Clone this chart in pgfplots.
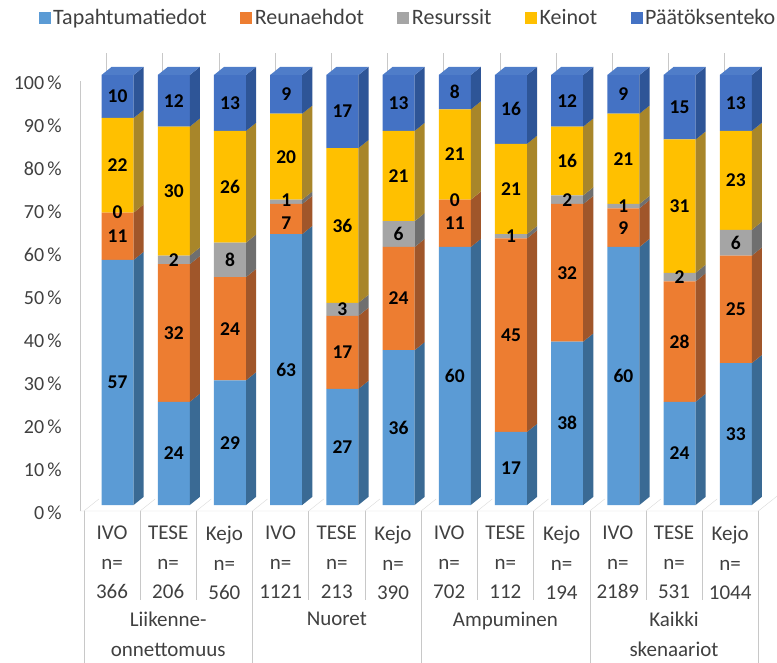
\documentclass[border=0pt]{standalone}
\usepackage{pgfplots}
\pgfplotsset{compat=1.18}
\usepackage{fontspec}
\setmainfont{Carlito}
\definecolor{cT}{HTML}{5B9BD5}
\definecolor{cR}{HTML}{ED7D31}
\definecolor{cS}{HTML}{A5A5A5}
\definecolor{cK}{HTML}{FFC000}
\definecolor{cP}{HTML}{4472C4}
\definecolor{sT}{HTML}{3A6A94}
\definecolor{sR}{HTML}{A0562A}
\definecolor{sS}{HTML}{6F6F6F}
\definecolor{sK}{HTML}{A8862A}
\definecolor{sP}{HTML}{2E5597}
\definecolor{tP}{HTML}{4F7DC9}
\definecolor{txt}{HTML}{404040}
\definecolor{sepc}{HTML}{C8C8C8}
\definecolor{floorc}{HTML}{D9D9D9}
\begin{document}
\begin{tikzpicture}
\useasboundingbox (0,0) rectangle (777pt,662pt);
\pgfplotsset{common/.style={at={(80pt,157pt)}, anchor=south west, scale only axis,
  width=683.9pt, height=430pt, xmin=-0.669, xmax=11.5, ymin=0, ymax=100,
  enlargelimits=false, clip=false}}
\begin{axis}[common,
  ybar stacked, bar width=0.57,
  axis x line*=bottom, axis y line*=left,
  x axis line style={draw=none},
  y axis line style={draw=sepc, yshift=-6pt},
  major tick length=0pt,
  ytick={0,10,...,100},
  /pgf/number format/assume math mode=true,
  yticklabel={\pgfmathprintnumber{\tick}\,\%},
  yticklabel style={anchor=east, inner sep=0pt, xshift=-18pt, yshift=-8pt,
    font=\fontsize{20}{24}\selectfont, text=txt},
  xtick={0,...,11},
  xticklabels={{IVO\\n=\\366},{TESE\\n=\\206},{Kejo\\n=\\560},
    {IVO\\n=\\1121},{TESE\\n=\\213},{Kejo\\n=\\390},
    {IVO\\n=\\702},{TESE\\n=\\112},{Kejo\\n=\\194},
    {IVO\\n=\\2189},{TESE\\n=\\531},{Kejo\\n=\\1044}},
  xticklabel style={align=center, anchor=north, inner sep=0pt, yshift=-21pt, xshift=-5.6pt,
    font=\fontsize{21}{29.5}\selectfont, text=txt},
  extra x ticks={1,4,7,10},
  extra x tick labels={{Liikenne-\\onnettomuus},{Nuoret},{Ampuminen},{Kaikki\\skenaariot}},
  extra x tick style={tick label style={yshift=-86pt, font=\fontsize{21}{26}\selectfont}},
  legend columns=5,
  legend style={at={(0.48,1.1326)}, anchor=center, draw=none, fill=none,
    font=\fontsize{22}{26}\selectfont, text=txt,
    /tikz/every even column/.append style={column sep=31pt},
    nodes={inner sep=2.5pt}},
  legend image code/.code={\fill[#1] (0pt,-6pt) rectangle (12pt,6pt);},
]
% floor, back-wall ticks and separators
\draw[floorc] ([yshift=-6pt]axis cs:-0.669,0) -- ([xshift=-5.6pt,yshift=-6pt]axis cs:11.5,0) -- ([xshift=18.4pt,yshift=13pt]axis cs:11.5,0);
\pgfplotsinvokeforeach{-0.5,0.5,1.5,2.5,3.5,4.5,5.5,6.5,7.5,8.5,9.5,10.5}{
  \draw[floorc] ([xshift=-5.6pt,yshift=-6pt]axis cs:#1,0) -- ([xshift=9.4pt,yshift=6pt]axis cs:#1,0);}
\pgfplotsinvokeforeach{-0.2,0.8,1.8,2.8,3.8,4.8,5.8,6.8,7.8,8.8,9.8,10.8}{
  \draw[sepc] (axis cs:#1,100) -- ([yshift=22pt]axis cs:#1,100);}
\pgfplotsinvokeforeach{0.5,1.5,3.5,4.5,6.5,7.5,9.5,10.5}{
  \draw[sepc] ([xshift=-5.6pt,yshift=-6pt]axis cs:#1,0) -- ([xshift=-5.6pt,yshift=-95pt]axis cs:#1,0);}
\pgfplotsinvokeforeach{-0.5,2.5,5.5,8.5,11.5}{
  \draw[sepc] ([xshift=-5.6pt,yshift=-6pt]axis cs:#1,0) -- ([xshift=-5.6pt,yshift=-160pt]axis cs:#1,0);}
\addplot[fill=cT, draw=none] coordinates {(0,57) (1,24) (2,29) (3,63) (4,27) (5,36) (6,60) (7,17) (8,38) (9,60) (10,24) (11,33)};
\addplot[fill=cR, draw=none] coordinates {(0,11) (1,32) (2,24) (3,7) (4,17) (5,24) (6,11) (7,45) (8,32) (9,9) (10,28) (11,25)};
\addplot[fill=cS, draw=none] coordinates {(0,0) (1,2) (2,8) (3,1) (4,3) (5,6) (6,0) (7,1) (8,2) (9,1) (10,2) (11,6)};
\addplot[fill=cK, draw=none] coordinates {(0,22) (1,30) (2,26) (3,20) (4,36) (5,21) (6,21) (7,21) (8,16) (9,21) (10,31) (11,23)};
\addplot[fill=cP, draw=none] coordinates {(0,10) (1,12) (2,13) (3,9) (4,17) (5,13) (6,8) (7,16) (8,12) (9,9) (10,15) (11,13)};
\legend{Tapahtumatiedot, Reunaehdot, Resurssit, Keinot, Päätöksenteko}
\end{axis}
\begin{axis}[common, hide axis, unbounded coords=jump]
% side faces
\addplot[fill=sT, draw=none] coordinates {
(0.285,0) (0.465,1.9) (0.465,58.9) (0.285,57) (nan,nan)
(1.285,0) (1.465,1.9) (1.465,25.9) (1.285,24) (nan,nan)
(2.285,0) (2.465,1.9) (2.465,30.9) (2.285,29) (nan,nan)
(3.285,0) (3.465,1.9) (3.465,64.9) (3.285,63) (nan,nan)
(4.285,0) (4.465,1.9) (4.465,28.9) (4.285,27) (nan,nan)
(5.285,0) (5.465,1.9) (5.465,37.9) (5.285,36) (nan,nan)
(6.285,0) (6.465,1.9) (6.465,61.9) (6.285,60) (nan,nan)
(7.285,0) (7.465,1.9) (7.465,18.9) (7.285,17) (nan,nan)
(8.285,0) (8.465,1.9) (8.465,39.9) (8.285,38) (nan,nan)
(9.285,0) (9.465,1.9) (9.465,61.9) (9.285,60) (nan,nan)
(10.285,0) (10.465,1.9) (10.465,25.9) (10.285,24) (nan,nan)
(11.285,0) (11.465,1.9) (11.465,34.9) (11.285,33)};
\addplot[fill=sR, draw=none] coordinates {
(0.285,57) (0.465,58.9) (0.465,69.9) (0.285,68) (nan,nan)
(1.285,24) (1.465,25.9) (1.465,57.9) (1.285,56) (nan,nan)
(2.285,29) (2.465,30.9) (2.465,54.9) (2.285,53) (nan,nan)
(3.285,63) (3.465,64.9) (3.465,71.9) (3.285,70) (nan,nan)
(4.285,27) (4.465,28.9) (4.465,45.9) (4.285,44) (nan,nan)
(5.285,36) (5.465,37.9) (5.465,61.9) (5.285,60) (nan,nan)
(6.285,60) (6.465,61.9) (6.465,72.9) (6.285,71) (nan,nan)
(7.285,17) (7.465,18.9) (7.465,63.9) (7.285,62) (nan,nan)
(8.285,38) (8.465,39.9) (8.465,71.9) (8.285,70) (nan,nan)
(9.285,60) (9.465,61.9) (9.465,70.9) (9.285,69) (nan,nan)
(10.285,24) (10.465,25.9) (10.465,53.9) (10.285,52) (nan,nan)
(11.285,33) (11.465,34.9) (11.465,59.9) (11.285,58)};
\addplot[fill=sS, draw=none] coordinates {
(1.285,56) (1.465,57.9) (1.465,59.9) (1.285,58) (nan,nan)
(2.285,53) (2.465,54.9) (2.465,62.9) (2.285,61) (nan,nan)
(3.285,70) (3.465,71.9) (3.465,72.9) (3.285,71) (nan,nan)
(4.285,44) (4.465,45.9) (4.465,48.9) (4.285,47) (nan,nan)
(5.285,60) (5.465,61.9) (5.465,67.9) (5.285,66) (nan,nan)
(7.285,62) (7.465,63.9) (7.465,64.9) (7.285,63) (nan,nan)
(8.285,70) (8.465,71.9) (8.465,73.9) (8.285,72) (nan,nan)
(9.285,69) (9.465,70.9) (9.465,71.9) (9.285,70) (nan,nan)
(10.285,52) (10.465,53.9) (10.465,55.9) (10.285,54) (nan,nan)
(11.285,58) (11.465,59.9) (11.465,65.9) (11.285,64)};
\addplot[fill=sK, draw=none] coordinates {
(0.285,68) (0.465,69.9) (0.465,91.9) (0.285,90) (nan,nan)
(1.285,58) (1.465,59.9) (1.465,89.9) (1.285,88) (nan,nan)
(2.285,61) (2.465,62.9) (2.465,88.9) (2.285,87) (nan,nan)
(3.285,71) (3.465,72.9) (3.465,92.9) (3.285,91) (nan,nan)
(4.285,47) (4.465,48.9) (4.465,84.9) (4.285,83) (nan,nan)
(5.285,66) (5.465,67.9) (5.465,88.9) (5.285,87) (nan,nan)
(6.285,71) (6.465,72.9) (6.465,93.9) (6.285,92) (nan,nan)
(7.285,63) (7.465,64.9) (7.465,85.9) (7.285,84) (nan,nan)
(8.285,72) (8.465,73.9) (8.465,89.9) (8.285,88) (nan,nan)
(9.285,70) (9.465,71.9) (9.465,92.9) (9.285,91) (nan,nan)
(10.285,54) (10.465,55.9) (10.465,86.9) (10.285,85) (nan,nan)
(11.285,64) (11.465,65.9) (11.465,88.9) (11.285,87)};
\addplot[fill=sP, draw=none] coordinates {
(0.285,90) (0.465,91.9) (0.465,101.9) (0.285,100) (nan,nan)
(1.285,88) (1.465,89.9) (1.465,101.9) (1.285,100) (nan,nan)
(2.285,87) (2.465,88.9) (2.465,101.9) (2.285,100) (nan,nan)
(3.285,91) (3.465,92.9) (3.465,101.9) (3.285,100) (nan,nan)
(4.285,83) (4.465,84.9) (4.465,101.9) (4.285,100) (nan,nan)
(5.285,87) (5.465,88.9) (5.465,101.9) (5.285,100) (nan,nan)
(6.285,92) (6.465,93.9) (6.465,101.9) (6.285,100) (nan,nan)
(7.285,84) (7.465,85.9) (7.465,101.9) (7.285,100) (nan,nan)
(8.285,88) (8.465,89.9) (8.465,101.9) (8.285,100) (nan,nan)
(9.285,91) (9.465,92.9) (9.465,101.9) (9.285,100) (nan,nan)
(10.285,85) (10.465,86.9) (10.465,101.9) (10.285,100) (nan,nan)
(11.285,87) (11.465,88.9) (11.465,101.9) (11.285,100)};
% top faces
\addplot[fill=tP, draw=none] coordinates {
(-0.285,100) (0.285,100) (0.465,101.9) (-0.105,101.9) (nan,nan)
(0.715,100) (1.285,100) (1.465,101.9) (0.895,101.9) (nan,nan)
(1.715,100) (2.285,100) (2.465,101.9) (1.895,101.9) (nan,nan)
(2.715,100) (3.285,100) (3.465,101.9) (2.895,101.9) (nan,nan)
(3.715,100) (4.285,100) (4.465,101.9) (3.895,101.9) (nan,nan)
(4.715,100) (5.285,100) (5.465,101.9) (4.895,101.9) (nan,nan)
(5.715,100) (6.285,100) (6.465,101.9) (5.895,101.9) (nan,nan)
(6.715,100) (7.285,100) (7.465,101.9) (6.895,101.9) (nan,nan)
(7.715,100) (8.285,100) (8.465,101.9) (7.895,101.9) (nan,nan)
(8.715,100) (9.285,100) (9.465,101.9) (8.895,101.9) (nan,nan)
(9.715,100) (10.285,100) (10.465,101.9) (9.895,101.9) (nan,nan)
(10.715,100) (11.285,100) (11.465,101.9) (10.895,101.9)};
% value labels
\addplot[draw=none, nodes near coords, point meta=explicit symbolic,
  every node near coord/.append style={anchor=center, inner sep=0pt,
    font=\bfseries\fontsize{19.5}{22}\selectfont, text=black}] coordinates {
(0,28.5)[57] (0,62.5)[11] (0,68)[0] (0,79)[22] (0,95)[10]
(1,12)[24] (1,40)[32] (1,57)[2] (1,73)[30] (1,94)[12]
(2,14.5)[29] (2,41)[24] (2,57)[8] (2,74)[26] (2,93.5)[13]
(3,31.5)[63] (3,65.5)[7] (3,71)[1] (3,81)[20] (3,95.5)[9]
(4,13.5)[27] (4,35.5)[17] (4,45.5)[3] (4,65)[36] (4,91.5)[17]
(5,18)[36] (5,48)[24] (5,63)[6] (5,76.5)[21] (5,93.5)[13]
(6,30)[60] (6,65.5)[11] (6,71)[0] (6,81.5)[21] (6,96)[8]
(7,8.5)[17] (7,39.5)[45] (7,62.5)[1] (7,73.5)[21] (7,92)[16]
(8,19)[38] (8,54)[32] (8,71)[2] (8,80)[16] (8,94)[12]
(9,30)[60] (9,64.5)[9] (9,69.5)[1] (9,80.5)[21] (9,95.5)[9]
(10,12)[24] (10,38)[28] (10,53)[2] (10,69.5)[31] (10,92.5)[15]
(11,16.5)[33] (11,45.5)[25] (11,61)[6] (11,75.5)[23] (11,93.5)[13]};
\end{axis}
\end{tikzpicture}
\end{document}
